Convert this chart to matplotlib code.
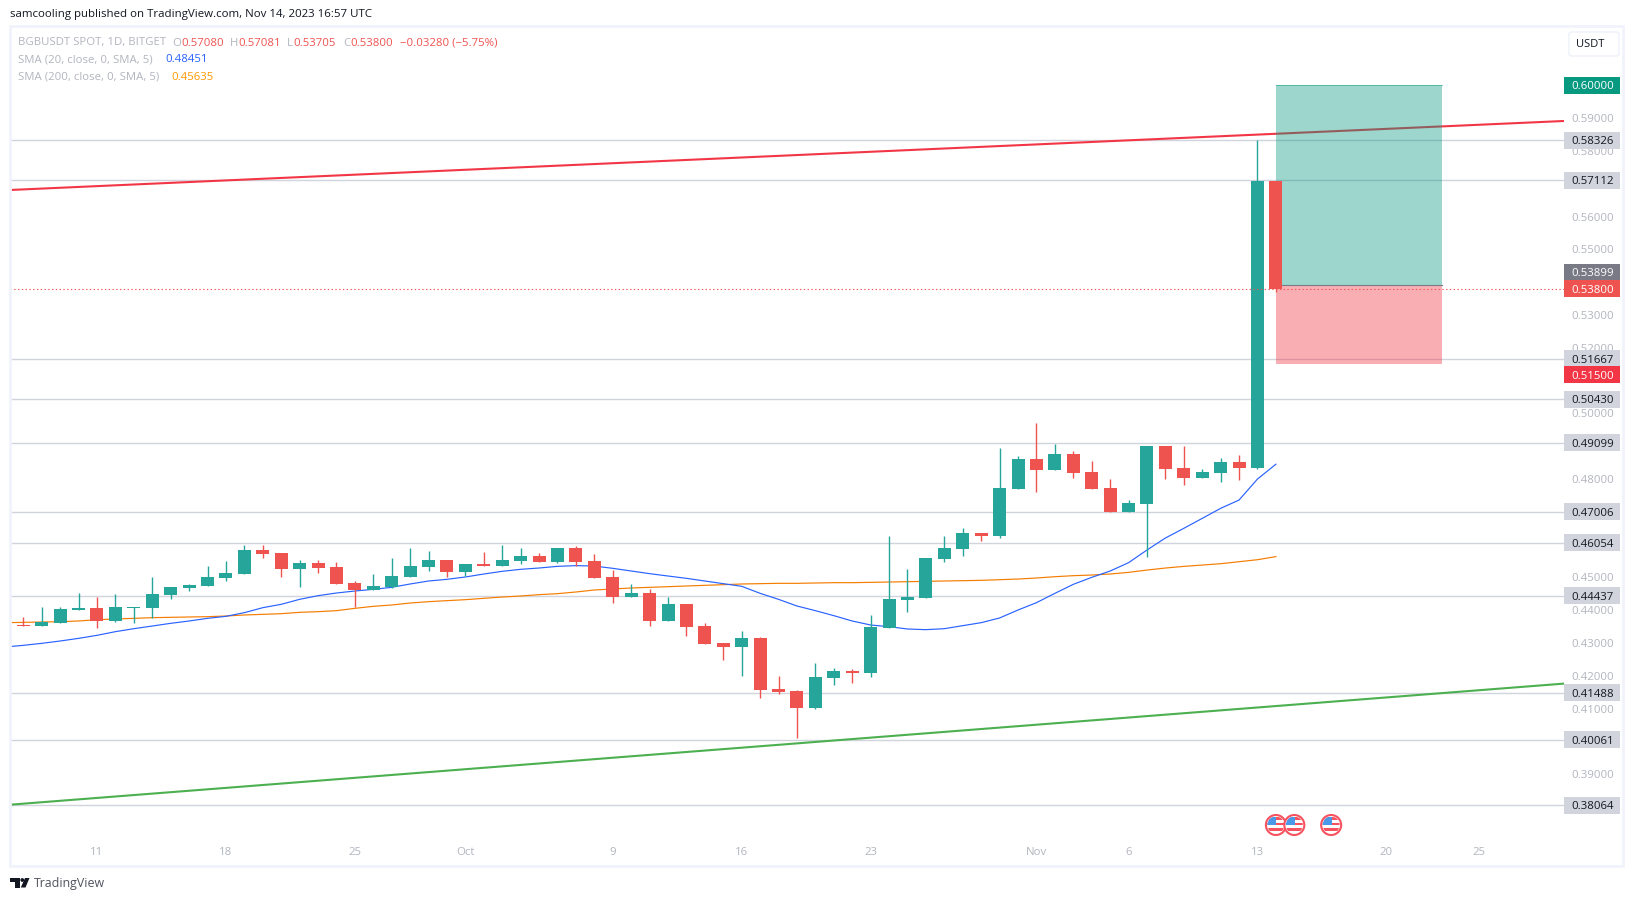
import numpy as np
import pandas as pd
import matplotlib
matplotlib.use("Agg")
import matplotlib.pyplot as plt
import matplotlib.dates as mdates
from matplotlib.patches import Circle, FancyBboxPatch, Polygon, Rectangle

plt.rcParams["font.family"] = ["Open Sans", "DejaVu Sans"]

# Daily candles, Sep 6 to Nov 14 2023
opens = [0.43560, 0.43551, 0.43521, 0.43612, 0.44008, 0.44069, 0.43673, 0.44069, 0.44069, 0.44465,
         0.44679, 0.44740, 0.44983, 0.45105, 0.45837, 0.45746, 0.45258, 0.45441, 0.45319, 0.44831,
         0.44618, 0.44699, 0.45014, 0.45319, 0.45532, 0.45166, 0.45410, 0.45349, 0.45502, 0.45654,
         0.45471, 0.45898, 0.45502, 0.45014, 0.44404, 0.44526, 0.43673, 0.44191, 0.43521, 0.43002,
         0.42880, 0.43155, 0.41600, 0.41539, 0.41021, 0.41936, 0.42149, 0.42088, 0.43459, 0.44312,
         0.44373, 0.45562, 0.45866, 0.46354, 0.46263, 0.47695, 0.48610, 0.48274, 0.48762, 0.48213,
         0.47726, 0.46994, 0.47238, 0.49006, 0.48335, 0.48031, 0.48183, 0.48518, 0.48335, 0.57080]
highs = [0.43570, 0.43795, 0.44100, 0.44100, 0.44526, 0.44404, 0.44496, 0.44100, 0.45014, 0.44709,
         0.44801, 0.45349, 0.45502, 0.45989, 0.45989, 0.45746, 0.45532, 0.45532, 0.45471, 0.44892,
         0.45105, 0.45593, 0.45898, 0.45806, 0.45532, 0.45410, 0.45776, 0.45989, 0.45898, 0.45746,
         0.45898, 0.45959, 0.45715, 0.45227, 0.44801, 0.44648, 0.44404, 0.44191, 0.43612, 0.43002,
         0.43368, 0.43185, 0.41997, 0.41570, 0.42393, 0.42240, 0.42210, 0.43856, 0.46263, 0.45257,
         0.45592, 0.46263, 0.46507, 0.46354, 0.48945, 0.48701, 0.49707, 0.49067, 0.48853, 0.48549,
         0.48000, 0.47360, 0.49006, 0.49006, 0.49006, 0.48305, 0.48640, 0.48732, 0.58326, 0.57081]
lows = [0.43530, 0.43521, 0.43521, 0.43612, 0.44008, 0.43460, 0.43643, 0.43612, 0.43765, 0.44343,
        0.44587, 0.44740, 0.44892, 0.45105, 0.45593, 0.45014, 0.44709, 0.45136, 0.44801, 0.44100,
        0.44618, 0.44669, 0.45014, 0.45197, 0.45014, 0.45044, 0.45349, 0.45349, 0.45410, 0.45471,
        0.45441, 0.45349, 0.44983, 0.44221, 0.44404, 0.43521, 0.43673, 0.43216, 0.42972, 0.42484,
        0.41997, 0.41326, 0.41448, 0.40107, 0.40991, 0.41722, 0.41783, 0.41966, 0.43459, 0.43946,
        0.44373, 0.45470, 0.45653, 0.46110, 0.46202, 0.47695, 0.47604, 0.48274, 0.48031, 0.47695,
        0.46994, 0.46994, 0.45623, 0.48000, 0.47817, 0.48031, 0.47909, 0.47970, 0.48305, 0.53705]
closes = [0.43530, 0.43521, 0.43643, 0.44039, 0.44069, 0.43673, 0.44100, 0.44100, 0.44496, 0.44709,
          0.44770, 0.45014, 0.45136, 0.45837, 0.45715, 0.45258, 0.45441, 0.45288, 0.44801, 0.44618,
          0.44740, 0.45044, 0.45349, 0.45532, 0.45166, 0.45410, 0.45349, 0.45532, 0.45654, 0.45471,
          0.45898, 0.45471, 0.44983, 0.44404, 0.44526, 0.43673, 0.44191, 0.43490, 0.42972, 0.42880,
          0.43155, 0.41570, 0.41509, 0.41021, 0.41966, 0.42149, 0.42088, 0.43490, 0.44343, 0.44404,
          0.45592, 0.45897, 0.46354, 0.46263, 0.47726, 0.48610, 0.48274, 0.48762, 0.48183, 0.47695,
          0.46994, 0.47269, 0.49006, 0.48305, 0.48031, 0.48213, 0.48518, 0.48335, 0.57080, 0.53800]

sma20 = [0.42880, 0.42931, 0.42992, 0.43063, 0.43144, 0.43236, 0.43348, 0.43439, 0.43520, 0.43602,
         0.43673, 0.43754, 0.43815, 0.43927, 0.44079, 0.44181, 0.44333, 0.44445, 0.44526, 0.44587,
         0.44638, 0.44699, 0.44801, 0.44892, 0.44943, 0.45014, 0.45105, 0.45187, 0.45248, 0.45288,
         0.45339, 0.45360, 0.45349, 0.45278, 0.45197, 0.45116, 0.45044, 0.44973, 0.44892, 0.44811,
         0.44730, 0.44516, 0.44333, 0.44130, 0.43988, 0.43836, 0.43673, 0.43551, 0.43500, 0.43429,
         0.43409, 0.43439, 0.43531, 0.43622, 0.43765, 0.44008, 0.44231, 0.44515, 0.44790, 0.45003,
         0.45196, 0.45450, 0.45836, 0.46202, 0.46497, 0.46801, 0.47106, 0.47360, 0.48000, 0.48451]
sma200 = [0.43622, 0.43632, 0.43642, 0.43652, 0.43673, 0.43713, 0.43734, 0.43754, 0.43774, 0.43785,
          0.43795, 0.43805, 0.43825, 0.43856, 0.43876, 0.43896, 0.43937, 0.43957, 0.43988, 0.44059,
          0.44120, 0.44161, 0.44221, 0.44262, 0.44293, 0.44323, 0.44364, 0.44404, 0.44435, 0.44476,
          0.44506, 0.44557, 0.44618, 0.44648, 0.44679, 0.44699, 0.44719, 0.44740, 0.44760, 0.44780,
          0.44801, 0.44811, 0.44821, 0.44821, 0.44831, 0.44841, 0.44841, 0.44851, 0.44861, 0.44871,
          0.44881, 0.44892, 0.44902, 0.44912, 0.44932, 0.44952, 0.44983, 0.45023, 0.45054, 0.45074,
          0.45105, 0.45155, 0.45226, 0.45287, 0.45338, 0.45378, 0.45419, 0.45480, 0.45541, 0.45635]

# Horizontal levels and price axis
level_prices = [0.58326, 0.57112, 0.51667, 0.50430, 0.49099, 0.47006, 0.46054, 0.44437, 0.41488, 0.40061, 0.38064]
price_ticks = [0.39, 0.41, 0.42, 0.43, 0.44, 0.45, 0.48, 0.50, 0.52, 0.53, 0.55, 0.56, 0.58, 0.59]
red_trend = [0.56809, 0.58912]
green_trend = [0.38074, 0.41765]
target_price = 0.60000
entry_price = 0.53899
stop_price = 0.51500
position_dates = ["2023-11-14", "2023-11-23"]
event_dates = ["2023-11-14", "2023-11-15", "2023-11-17"]
time_ticks = ["2023-09-11", "2023-09-18", "2023-09-25", "2023-10-01", "2023-10-09", "2023-10-16",
              "2023-10-23", "2023-11-01", "2023-11-06", "2023-11-13", "2023-11-20", "2023-11-25"]
time_labels = ["11", "18", "25", "Oct", "9", "16", "23", "Nov", "6", "13", "20", "25"]

UP = "#26A69A"
DOWN = "#EF5350"
GREY_TEXT = "#B2B5BE"
LEVEL = "#D1D4DC"
TEXT_SIZE = 8.2
WIDTH, HEIGHT = 1634, 901
AXIS_LEFT, AXIS_RIGHT, AXIS_TOP, AXIS_BOTTOM = 10, 1564, 26, 866

fig = plt.figure(figsize=(WIDTH / 100, HEIGHT / 100), dpi=100, facecolor="white")
ax = fig.add_axes([AXIS_LEFT / WIDTH, 1 - AXIS_BOTTOM / HEIGHT,
                   (AXIS_RIGHT - AXIS_LEFT) / WIDTH, (AXIS_BOTTOM - AXIS_TOP) / HEIGHT])

dates = mdates.date2num(pd.date_range("2023-09-06", "2023-11-14"))
x_left = dates[1] - 0.722
x_right = dates[1] + 83.64
ax.set_xlim(x_left, x_right)
ax.set_ylim(0.36206, 0.61807)
for side in ax.spines.values():
    side.set_visible(False)

# 1) Levels and trendlines sit under the position box
for level in level_prices:
    ax.axhline(level, color=LEVEL, lw=1.0, zorder=1)
ax.plot([x_left, x_right], red_trend, color="#F23645", lw=1.5, zorder=2)
ax.plot([x_left, x_right], green_trend, color="#4CAF50", lw=1.5, zorder=2)

# 2) Long position box
box_x = mdates.date2num(pd.to_datetime(position_dates))
ax.add_patch(Rectangle((box_x[0], entry_price), box_x[1] - box_x[0], target_price - entry_price,
                       facecolor=(8 / 255, 153 / 255, 129 / 255, 0.4), edgecolor="none", zorder=3))
ax.add_patch(Rectangle((box_x[0], stop_price), box_x[1] - box_x[0], entry_price - stop_price,
                       facecolor=(242 / 255, 54 / 255, 69 / 255, 0.4), edgecolor="none", zorder=3))
ax.plot(box_x, [target_price, target_price], color="#089981", lw=0.7, alpha=0.5, zorder=3.1)
ax.plot(box_x, [entry_price, entry_price], color="#787B86", lw=0.8, zorder=3.1)

# 3) SMAs
ax.plot(dates, sma200, color="#F57C00", lw=0.85, zorder=4)
ax.plot(dates, sma20, color="#2962FF", lw=0.85, zorder=4)

# 4) Candles
o = np.array(opens)
c = np.array(closes)
colors = [UP if up else DOWN for up in c >= o]
ax.vlines(dates, lows, highs, colors=colors, lw=1.0, zorder=5)
ax.bar(dates, np.abs(c - o), bottom=np.minimum(o, c), width=0.706, color=colors, linewidth=0, zorder=5.1)
ax.axhline(closes[-1], color=DOWN, lw=0.8, ls=(0, (1.2, 2.2)), zorder=5.2)

# 5) Axis labels
ax.yaxis.tick_right()
ax.set_yticks(price_ticks)
ax.set_yticklabels([f"{p:.5f}" for p in price_ticks])
ax.tick_params(axis="y", length=0, pad=5.5, labelsize=TEXT_SIZE, labelcolor=GREY_TEXT)
ax.set_xticks(mdates.date2num(pd.to_datetime(time_ticks)))
ax.set_xticklabels(time_labels)
ax.tick_params(axis="x", length=0, pad=-13.7, labelsize=TEXT_SIZE, labelcolor=GREY_TEXT)

# 6) Price tags on the right, nudged apart where they would collide
tag_x = ax.get_yaxis_transform()
tag_w = 56 / (AXIS_RIGHT - AXIS_LEFT)
px_per_price = 3281
tag_h = 17 / px_per_price
text_x = 1 + 7.7 / (AXIS_RIGHT - AXIS_LEFT)


def price_tag(price, back, fore, nudge=0):
    y = price - nudge / px_per_price
    ax.add_patch(Rectangle((1, y - tag_h / 2), tag_w, tag_h, transform=tag_x, facecolor=back,
                           edgecolor="none", clip_on=False, zorder=6))
    ax.text(text_x, y, f"{price:.5f}", transform=tag_x, color=fore, fontsize=TEXT_SIZE,
            va="center_baseline", ha="left", clip_on=False, zorder=7)


for level in level_prices:
    price_tag(level, LEVEL, "#131722")
price_tag(target_price, "#089981", "white")
price_tag(entry_price, "#787B86", "white", nudge=-13.3)
price_tag(closes[-1], DOWN, "white")
price_tag(stop_price, "#F23645", "white", nudge=10.7)

# 7) Overlay in pixels for the chart chrome
over = fig.add_axes([0, 0, 1, 1], facecolor="none")
over.set_xlim(0, WIDTH)
over.set_ylim(HEIGHT, 0)
over.axis("off")
over.add_patch(Rectangle((10, 26), 1613, 840, facecolor="none", edgecolor="#F0F3FA", lw=2.0))
over.add_patch(FancyBboxPatch((1569, 32), 50, 24, boxstyle="round,pad=0,rounding_size=3",
                              facecolor="white", edgecolor="#F0F3FA", lw=1.2))
over.text(1590.5, 44.5, "USDT", color="#131722", fontsize=8.0, ha="center", va="center")

over.text(10, 15, "samcooling published on TradingView.com, Nov 14, 2023 16:57 UTC",
          color="#131722", fontsize=8.25, va="center")

# Legend rows
over.text(18, 43, "BGBUSDT SPOT, 1D, BITGET", color=GREY_TEXT, fontsize=TEXT_SIZE, va="center")
for x, label, col in [(172, "O", GREY_TEXT), (181, "0.57080", DOWN), (230, "H", GREY_TEXT), (238, "0.57081", DOWN),
                      (287, "L", GREY_TEXT), (293, "0.53705", DOWN), (343, "C", GREY_TEXT), (350, "0.53800", DOWN),
                      (400, "\u22120.03280 (\u22125.75%)", DOWN)]:
    over.text(x, 43, label, color=col, fontsize=TEXT_SIZE, va="center")
over.text(18, 60, "SMA (20, close, 0, SMA, 5)", color=GREY_TEXT, fontsize=TEXT_SIZE, va="center")
over.text(165, 60, "0.48451", color="#2962FF", fontsize=TEXT_SIZE, va="center")
over.text(18, 77, "SMA (200, close, 0, SMA, 5)", color=GREY_TEXT, fontsize=TEXT_SIZE, va="center")
over.text(171.3, 77, "0.45635", color="#FF9800", fontsize=TEXT_SIZE, va="center")

# Economic event flags
fig.canvas.draw()
for event in event_dates:
    px = ax.transData.transform((mdates.date2num(pd.Timestamp(event)), 0.4))[0]
    py = 825
    rim = Circle((px, py), 10, facecolor="white", edgecolor="#F7525F", lw=1.5, zorder=3)
    over.add_patch(rim)
    inner = Circle((px, py), 8.5, transform=over.transData)
    for top, hgt, col in [(py - 8.5, 3, "#F7525F"), (py - 2.5, 2.5, "#F7525F"), (py + 3, 3, "#F7525F")]:
        band = Rectangle((px - 9, top), 18, hgt, facecolor=col, edgecolor="none", zorder=3.1)
        over.add_patch(band)
        band.set_clip_path(inner)
    canton = Rectangle((px - 9, py - 8.5), 9.5, 8, facecolor="#4A98E8", edgecolor="none", zorder=3.2)
    over.add_patch(canton)
    canton.set_clip_path(inner)

# TradingView logo
over.add_patch(Polygon([(10, 878), (20, 878), (20, 887.5), (15.5, 887.5), (15.5, 882), (10, 882)],
                       facecolor="#131722", edgecolor="none"))
over.add_patch(Circle((22.3, 880), 1.9, facecolor="#131722", edgecolor="none"))
over.add_patch(Polygon([(25, 878), (29.5, 878), (25.5, 887.5), (20.8, 887.5)], facecolor="#131722", edgecolor="none"))
over.text(33.5, 883, "TradingView", color="#50535E", fontsize=8.9, va="center")

fig.savefig("out.png", dpi=100)
